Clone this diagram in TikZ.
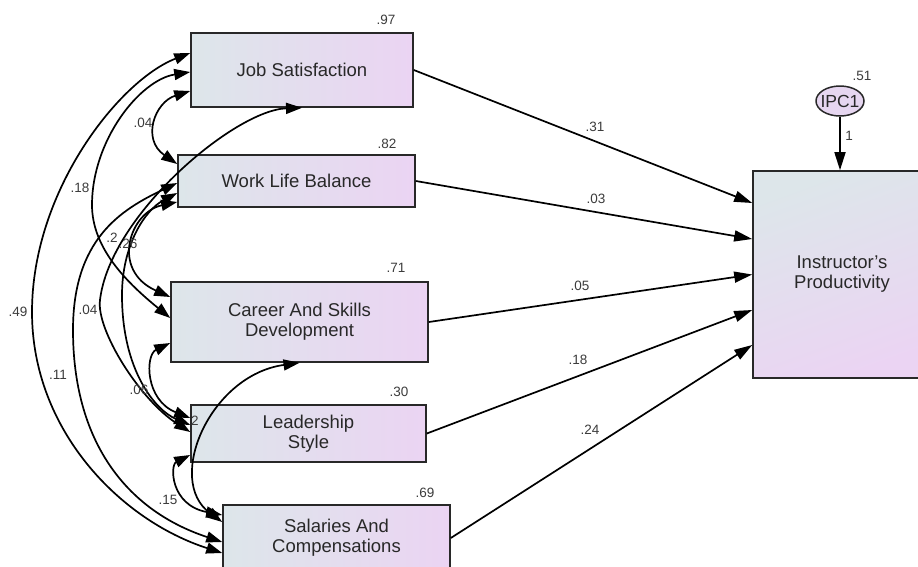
\documentclass[tikz,border=0pt]{standalone}
\usepackage{fontspec}
\setmainfont{Liberation Sans}
\usetikzlibrary{arrows.meta,shapes.geometric}
\definecolor{boxL}{RGB}{221,230,234}
\definecolor{boxR}{RGB}{235,212,243}
\definecolor{ink}{RGB}{40,40,40}
\definecolor{lbl}{RGB}{60,60,60}
\definecolor{ellfill}{RGB}{230,214,240}
\begin{document}
\begin{tikzpicture}[x=1pt,y=-1pt,
  var/.style={draw=ink, line width=1.6pt, left color=boxL, right color=boxR, text=ink,
    font=\fontsize{18.5}{20}\selectfont, align=center, inner sep=0pt},
  num/.style={text=lbl, font=\fontsize{13.5}{15}\selectfont, inner sep=0pt},
  regarrow/.style={draw=black, line width=1.7pt, -{Triangle[length=18pt,width=11pt]}},
  cov/.style={draw=black, line width=1.7pt, {Triangle[length=16pt,width=11pt]}-{Triangle[length=16pt,width=11pt]}}]
\useasboundingbox (0,0) rectangle (918,566);
\clip (0,0) rectangle (918,566);
\fill[white] (0,0) rectangle (918,566);

% variables
\node[var, minimum width=222pt, minimum height=74pt] (JS) at (302,70) {Job Satisfaction};
\node[var, minimum width=237pt, minimum height=52pt] (WLB) at (296.5,181) {Work Life Balance};
\node[var, minimum width=257pt, minimum height=80pt] (CSD) at (299.5,322) {Career And Skills\\Development};
\node[var, minimum width=235pt, minimum height=57pt] (LS) at (308.5,433.5) {Leadership\\Style};
\node[var, minimum width=227pt, minimum height=66pt] (SC) at (336.5,538) {Salaries And\\Compensations};
\node[var, top color=boxL, bottom color=boxR, shading angle=20, minimum width=178pt, minimum height=207pt] (IP) at (842,274.5) {Instructor's\\Productivity};

% error term
\node[ellipse, draw=ink, line width=1.5pt, fill=ellfill, minimum width=48pt, minimum height=30pt, inner sep=0pt] (E) at (840,101) {};
\node[text=ink, font=\fontsize{17.5}{17.5}\selectfont, inner sep=0pt] (Etxt) at (E.center) {IPC1};
\draw[regarrow] (E.south) -- (E.south |- IP.north);
\node[num] (v51) at (862,76) {.51};
\node[num] (w1) at (849,136) {1};

% squared multiple correlations
\node[num] (v97) at (386,20) {.97};
\node[num] (v82) at (387,144) {.82};
\node[num] (v71) at (396,268) {.71};
\node[num] (v30) at (399,392) {.30};
\node[num] (v69) at (425,493) {.69};

% regression paths
\draw[regarrow] (JS.east) -- ([yshift=71.5pt]IP.west);
\draw[regarrow] (WLB.east) -- ([yshift=35.5pt]IP.west);
\draw[regarrow] (CSD.east) -- (IP.west);
\draw[regarrow] (LS.east) -- ([yshift=-35.5pt]IP.west);
\draw[regarrow] (SC.east) -- ([yshift=-70.5pt]IP.west);
\node[num] (p1) at (595,127) {.31};
\node[num] (p2) at (596,199) {.03};
\node[num] (p3) at (580,286) {.05};
\node[num] (p4) at (578,360) {.18};
\node[num] (p5) at (590,430) {.24};

% covariances
\draw[cov] ([yshift=17pt]JS.west) .. controls (120,80) and (32,190) .. (32,312)
   .. controls (32,430) and (120,520) .. ([yshift=-15pt]SC.west);
\draw[cov] ([yshift=-2pt]WLB.west) .. controls (120,210) and (73,240) .. (73,330)
   .. controls (73,440) and (125,510) .. ([yshift=-4pt]SC.west);
\draw[cov] ([yshift=-2pt]JS.west) .. controls (140,80) and (92,140) .. (92,205)
   .. controls (92,250) and (130,285) .. ([yshift=4pt]CSD.west);
\draw[cov] ([yshift=-21pt]JS.west) .. controls (155,102) and (141,139) .. ([yshift=17pt]WLB.west);
\draw[cov] (JS.south) .. controls (235,110) and (110,215) .. (100,300)
   .. controls (96,330) and (140,400) .. ([yshift=1.5pt]LS.west);
\draw[cov] ([yshift=-12pt]WLB.west) .. controls (145,210) and (122,245) .. (122,295)
   .. controls (122,370) and (155,410) .. ([yshift=8.5pt]LS.west);
\draw[cov] ([yshift=-21pt]WLB.west) .. controls (130,212) and (110,270) .. ([yshift=25pt]CSD.west);
\draw[cov] ([yshift=-21pt]CSD.west) .. controls (145,355) and (145,400) .. ([yshift=15.5pt]LS.west);
\draw[cov] (CSD.south) .. controls (210,375) and (165,480) .. ([yshift=16pt]SC.west);
\draw[cov] ([yshift=-21.5pt]LS.west) .. controls (170,465) and (170,505) .. ([yshift=23pt]SC.west);

\node[num] (c1) at (143,123) {.04};
\node[num] (c2) at (80,188) {.18};
\node[num] (c3) at (18,312) {.49};
\node[num] (c4) at (88,310) {.04};
\node[num] (c5) at (58,375) {.11};
\node[num] (c6) at (112,238) {.2};
\node[num] (c7) at (128,244) {.26};
\node[num] (c8) at (139,390) {.06};
\node[num] (c9) at (195,421) {2};
\node[num] (c10) at (168,500) {.15};
\end{tikzpicture}
\end{document}
